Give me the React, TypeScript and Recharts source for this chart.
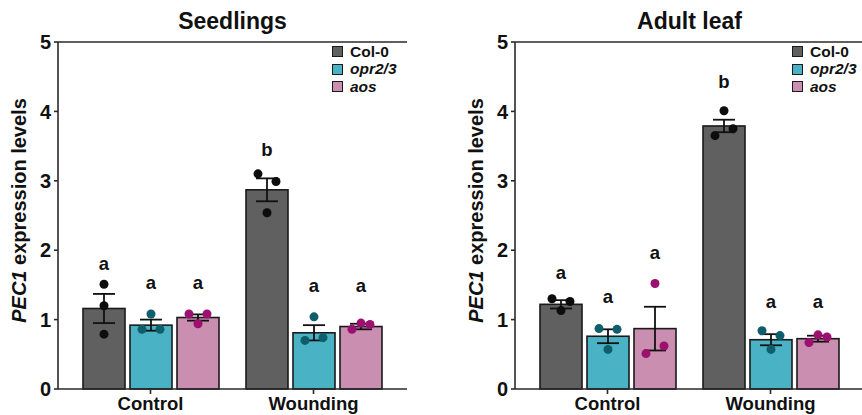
import { BarChart, Bar, XAxis, YAxis, ReferenceLine } from "recharts";

const groups = ["Control", "Wounding"];
const genotypes = ["Col-0", "opr2/3", "aos"];
const yTicks = [0, 1, 2, 3, 4, 5];

// Seedlings
const seedCol0 = [1.16, 2.87];
const seedOpr = [0.92, 0.81];
const seedAos = [1.03, 0.9];
const seedCol0Sem = [0.21, 0.165];
const seedOprSem = [0.08, 0.11];
const seedAosSem = [0.045, 0.04];
const seedCol0Pts = [[1.51, 1.2, 0.79], [3.1, 2.99, 2.54]];
const seedOprPts = [[1.08, 0.86, 0.86], [1.04, 0.7, 0.74]];
const seedAosPts = [[1.08, 0.94, 1.08], [0.86, 0.95, 0.93]];
const seedCol0Letter = ["a", "b"];
const seedOprLetter = ["a", "a"];
const seedAosLetter = ["a", "a"];
const seedCol0LetterAt = [1.71, 3.36];
const seedOprLetterAt = [1.44, 1.4];
const seedAosLetterAt = [1.44, 1.4];

// Adult leaf
const adultCol0 = [1.22, 3.79];
const adultOpr = [0.76, 0.71];
const adultAos = [0.87, 0.725];
const adultCol0Sem = [0.06, 0.09];
const adultOprSem = [0.1, 0.08];
const adultAosSem = [0.315, 0.043];
const adultCol0Pts = [[1.3, 1.13, 1.26], [4.01, 3.65, 3.75]];
const adultOprPts = [[0.87, 0.57, 0.86], [0.84, 0.57, 0.77]];
const adultAosPts = [[1.52, 0.51, 0.62], [0.67, 0.78, 0.75]];
const adultCol0Letter = ["a", "b"];
const adultOprLetter = ["a", "a"];
const adultAosLetter = ["a", "a"];
const adultCol0LetterAt = [1.585, 4.33];
const adultOprLetterAt = [1.235, 1.17];
const adultAosLetterAt = [1.87, 1.17];

const barFills = ["#606060", "#4ab2c5", "#c98eb0"];
const dotFills = ["#0d0d0d", "#0f5e6c", "#9c106f"];
const FONT = '"Liberation Sans", Arial, sans-serif';
const INK = "#111";
const AXIS = "#2a2a2a";

type Series = {
  mean: number[];
  sem: number[];
  pts: number[][];
  letter: string[];
  letterAt: number[];
};

const seedSeries: Series[] = [
  { mean: seedCol0, sem: seedCol0Sem, pts: seedCol0Pts, letter: seedCol0Letter, letterAt: seedCol0LetterAt },
  { mean: seedOpr, sem: seedOprSem, pts: seedOprPts, letter: seedOprLetter, letterAt: seedOprLetterAt },
  { mean: seedAos, sem: seedAosSem, pts: seedAosPts, letter: seedAosLetter, letterAt: seedAosLetterAt },
];

const adultSeries: Series[] = [
  { mean: adultCol0, sem: adultCol0Sem, pts: adultCol0Pts, letter: adultCol0Letter, letterAt: adultCol0LetterAt },
  { mean: adultOpr, sem: adultOprSem, pts: adultOprPts, letter: adultOprLetter, letterAt: adultOprLetterAt },
  { mean: adultAos, sem: adultAosSem, pts: adultAosPts, letter: adultAosLetter, letterAt: adultAosLetterAt },
];

// simple dot-plot spread: dots closer than ~10px share a row and are spread sideways
function spread(ys: number[]) {
  const order = ys.map((_, i) => i).sort((a, b) => ys[a] - ys[b]);
  const clusters: number[][] = [];
  order.forEach((i) => {
    const last = clusters[clusters.length - 1];
    if (last && Math.abs(ys[i] - ys[last[last.length - 1]]) < 10.5) last.push(i);
    else clusters.push([i]);
  });
  const offs = ys.map(() => 0);
  clusters.forEach((c) => {
    const members = [...c].sort((a, b) => a - b);
    const slots = members.length === 1 ? [0] : members.length === 2 ? [-1, 1] : [-1, 0, 1];
    members.forEach((m, k) => (offs[m] = slots[k] ?? 0));
  });
  return offs;
}

function BarMarks(props: any) {
  const { x, y, width, height, index, s, fill, dot } = props;
  const v = s.mean[index];
  const k = height / v;
  const base = y + height;
  const py = (val: number) => base - val * k;
  const cx = x + width / 2;
  const top = py(v + s.sem[index]);
  const bot = py(v - s.sem[index]);
  const pts: number[] = s.pts[index];
  const ys = pts.map(py);
  const offs = spread(ys);
  return (
    <g>
      <rect x={x} y={y} width={width} height={height} fill={fill} stroke="#1a1a1a" strokeWidth={1.6} />
      <line x1={cx} x2={cx} y1={top} y2={bot} stroke={INK} strokeWidth={1.8} />
      <line x1={cx - 11} x2={cx + 11} y1={top} y2={top} stroke={INK} strokeWidth={1.8} />
      <line x1={cx - 11} x2={cx + 11} y1={bot} y2={bot} stroke={INK} strokeWidth={1.8} />
      {ys.map((cy, i) => (
        <circle key={i} cx={cx + offs[i] * 9} cy={cy} r={4.5} fill={dot} />
      ))}
      <text x={cx} y={py(s.letterAt[index])} textAnchor="middle" fontSize={18.5} fontWeight="bold" fill={INK} fontFamily={FONT}>
        {s.letter[index]}
      </text>
    </g>
  );
}

function YLabel(props: any) {
  const vb = props.viewBox || { x: 18, y: 42, height: 347 };
  const cx = vb.x + 8;
  const cy = vb.y + vb.height / 2 - 5;
  return (
    <text
      x={cx}
      y={cy}
      transform={`rotate(-90 ${cx} ${cy})`}
      textAnchor="middle"
      fontSize={20}
      fontWeight="bold"
      fill={INK}
      fontFamily={FONT}
    >
      <tspan fontStyle="italic">PEC1</tspan>
      <tspan> expression levels</tspan>
    </text>
  );
}

function Legend({ left }: { left: number }) {
  return (
    <div style={{ position: "absolute", left, top: 43, fontFamily: FONT, fontWeight: "bold", fontSize: 15.5, color: INK }}>
      {genotypes.map((g, i) => (
        <div key={g} style={{ display: "flex", alignItems: "center", height: 17.4, lineHeight: "17.4px" }}>
          <span
            style={{
              display: "inline-block",
              width: 9,
              height: 9,
              background: barFills[i],
              border: "1.5px solid #1a1a1a",
              marginRight: 7,
            }}
          />
          <span style={{ fontStyle: i === 0 ? "normal" : "italic", lineHeight: "17.4px" }}>{g}</span>
        </div>
      ))}
    </div>
  );
}

function Panel({ title, series, left, legendLeft }: { title: string; series: Series[]; left: number; legendLeft: number }) {
  const data = groups.map((g, i) => {
    const row: Record<string, string | number> = { group: g };
    series.forEach((s, j) => (row["s" + j] = s.mean[i]));
    return row;
  });
  return (
    <div style={{ position: "absolute", left, top: 0, width: 430, height: 415 }}>
      <div
        style={{
          position: "absolute",
          left: 58,
          width: 349,
          top: 9,
          textAlign: "center",
          fontFamily: FONT,
          fontWeight: "bold",
          fontSize: 23,
          color: INK,
          lineHeight: "24px",
        }}
      >
        {title}
      </div>
      <BarChart
        width={430}
        height={415}
        data={data}
        margin={{ top: 42, right: 23, bottom: 0, left: 18 }}
        barSize={42}
        barGap={5}
        style={{ fontFamily: FONT }}
      >
        <XAxis
          dataKey="group"
          interval={0}
          padding={{ left: 11, right: 12 }}
          height={26}
          tickSize={5}
          tickMargin={3}
          axisLine={{ stroke: AXIS, strokeWidth: 1.6 }}
          tickLine={{ stroke: AXIS, strokeWidth: 1.6 }}
          tick={{ fontSize: 18.5, fontWeight: "bold", fill: INK }}
        />
        <YAxis
          yAxisId="v"
          domain={[0, 5]}
          ticks={yTicks}
          width={40}
          tickSize={4}
          tickMargin={3}
          axisLine={{ stroke: AXIS, strokeWidth: 1.6 }}
          tickLine={{ stroke: AXIS, strokeWidth: 1.6 }}
          tick={{ fontSize: 20, fontWeight: "bold", fill: INK }}
          label={(p: any) => <YLabel {...p} />}
        />
        <YAxis
          yAxisId="frame"
          orientation="right"
          domain={[0, 5]}
          width={0}
          tick={false}
          tickLine={false}
          axisLine={{ stroke: AXIS, strokeWidth: 1.6 }}
        />
        <ReferenceLine yAxisId="v" y={5} stroke={AXIS} strokeWidth={1.6} />
        {series.map((s, j) => (
          <Bar
            key={j}
            yAxisId="v"
            dataKey={"s" + j}
            name={genotypes[j]}
            fill={barFills[j]}
            isAnimationActive={false}
            shape={(p: any) => <BarMarks {...p} s={s} fill={barFills[j]} dot={dotFills[j]} />}
          />
        ))}
      </BarChart>
      <Legend left={legendLeft} />
    </div>
  );
}

export default function App() {
  return (
    <div style={{ position: "absolute", left: 0, top: 0, width: 862, height: 415, overflow: "hidden", background: "#fff" }}>
      <Panel title="Seedlings" series={seedSeries} left={0} legendLeft={332} />
      <Panel title="Adult leaf" series={adultSeries} left={457} legendLeft={335} />
    </div>
  );
}
